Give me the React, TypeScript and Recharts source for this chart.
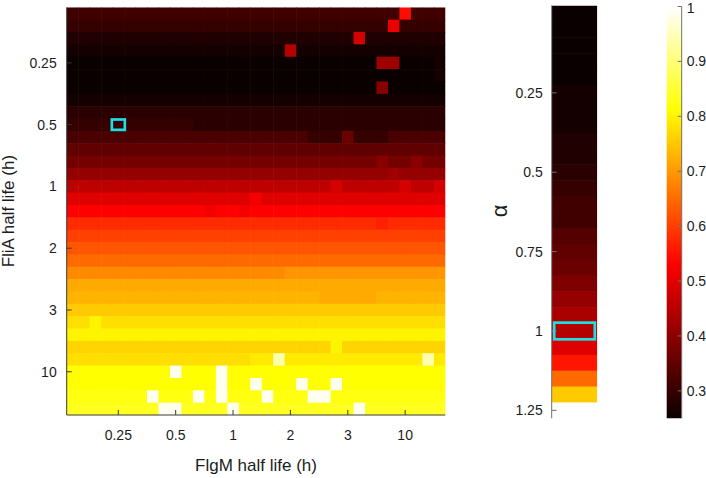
import React from 'react';
import { ScatterChart, Scatter, XAxis, YAxis, ReferenceArea } from 'recharts';

// ---------------- data ----------------
const flgmTickIndex = [4, 9, 14, 19, 24, 29];
const flgmTickLabels = ['0.25', '0.5', '1', '2', '3', '10'];
const fliaTickIndex = [4, 9, 14, 19, 24, 29];
const fliaTickLabels = ['0.25', '0.5', '1', '2', '3', '10'];
const gridCols = 33;
const gridRows = 33;

// typical value of each FliA row (top to bottom)
const rowBase = [
  0.316, 0.300, 0.283, 0.267, 0.259, 0.257, 0.260, 0.272, 0.289, 0.290,
  0.322, 0.349, 0.377, 0.404, 0.454, 0.493, 0.530, 0.575, 0.592, 0.614,
  0.647, 0.690, 0.708, 0.730, 0.752, 0.774, 0.790, 0.756, 0.785, 0.802,
  0.810, 0.823, 0.830,
];

// [row, fromCol, toCol, value]
const rowSegments: [number, number, number, number][] = [
  [2, 32, 32, 0.276], [3, 32, 32, 0.272], [4, 32, 32, 0.268], [5, 32, 32, 0.268],
  [9, 0, 10, 0.305],
  [10, 21, 27, 0.305],
  [21, 0, 18, 0.680],
  [23, 22, 26, 0.715],
  [28, 0, 15, 0.772],
];

// [row, col, value]
const cellOverrides: [number, number, number][] = [
  [0, 29, 0.54], [1, 28, 0.505], [2, 25, 0.476], [3, 19, 0.443],
  [4, 27, 0.415], [4, 28, 0.415], [6, 27, 0.393], [10, 24, 0.366],
  [12, 27, 0.40], [12, 30, 0.40], [13, 28, 0.425],
  [14, 23, 0.475], [14, 29, 0.475], [14, 32, 0.475],
  [15, 16, 0.51], [16, 12, 0.515], [16, 15, 0.515], [17, 27, 0.565],
  [25, 2, 0.80], [27, 23, 0.79], [28, 18, 0.94], [28, 31, 0.94],
  [29, 9, 0.982], [29, 13, 0.982],
  [30, 13, 0.982], [30, 16, 0.982], [30, 20, 0.982], [30, 23, 0.982],
  [31, 7, 0.982], [31, 11, 0.982], [31, 13, 0.982], [31, 17, 0.982], [31, 21, 0.982], [31, 22, 0.982],
  [32, 8, 0.985], [32, 9, 0.985], [32, 14, 0.985], [32, 25, 0.985],
];
const highlightCell = { x: 4, y: 9 };

const alphaValues = [
  0, 0.05, 0.1, 0.15, 0.2, 0.25, 0.3, 0.35, 0.4, 0.45, 0.5, 0.55, 0.6,
  0.65, 0.7, 0.75, 0.8, 0.85, 0.9, 0.95, 1, 1.05, 1.1, 1.15, 1.2, 1.25,
];
const alphaScores = [
  0.255, 0.255, 0.257, 0.259, 0.261, 0.263, 0.267, 0.272, 0.278, 0.283,
  0.292, 0.300, 0.310, 0.318, 0.333, 0.349, 0.366, 0.382, 0.404, 0.426,
  0.449, 0.493, 0.553, 0.641, 0.752, 1.0,
];
const alphaTicks = [0.25, 0.5, 0.75, 1, 1.25];
const alphaHighlight = 1;

const colorbarTicks = [0.3, 0.4, 0.5, 0.6, 0.7, 0.8, 0.9, 1];
const colorMin = 0.25;
const colorMax = 1;

// ---------------- helpers ----------------
function hot(v: number): string {
  const t = Math.min(1, Math.max(0, (v - colorMin) / (colorMax - colorMin)));
  const i = Math.min(63, Math.floor(t * 64));
  const r = Math.min(1, (i + 1) / 24);
  const g = Math.min(1, Math.max(0, (i + 1 - 24) / 24));
  const b = Math.min(1, Math.max(0, (i + 1 - 48) / 16));
  return `rgb(${Math.round(r * 255)},${Math.round(g * 255)},${Math.round(b * 255)})`;
}

const heatCells: { x: number; y: number; v: number }[] = [];
for (let r = 0; r < gridRows; r++) {
  for (let c = 0; c < gridCols; c++) {
    let v = rowBase[r];
    for (const [sr, c0, c1, sv] of rowSegments) if (sr === r && c >= c0 && c <= c1) v = sv;
    for (const [or, oc, ov] of cellOverrides) if (or === r && oc === c) v = ov;
    heatCells.push({ x: c, y: r, v });
  }
}
const alphaCells = alphaValues.map((a, i) => ({ x: 0, a, v: alphaScores[i] }));

// ---------------- layout ----------------
const W = 706;
const H = 478;
const FONT = '"Liberation Sans", Arial, Helvetica, sans-serif';
const TEXT = '#1c1c1c';
const AXIS_MAIN = '#383838';
const AXIS_SIDE = '#707070';
const CYAN = '#1fdde4';

const MAIN = { left: 66.7, right: 445.3, top: 7.3, bottom: 415 };
const ALPHA = { left: 551.7, right: 597.3, top: 5.5, bottom: 418.3 };
const CBAR = { left: 666.7, right: 681.7, top: 6.5, bottom: 418.3 };

const mainCellW = (MAIN.right - MAIN.left) / gridCols;
const mainCellH = (MAIN.bottom - MAIN.top) / gridRows;
const alphaCellW = ALPHA.right - ALPHA.left;
const alphaCellH = (ALPHA.bottom - ALPHA.top) / alphaValues.length;

const mainMargin = { top: MAIN.top, right: W - MAIN.right, bottom: H - MAIN.bottom - 30, left: MAIN.left - 60 };
const mainFillMargin = mainMargin;
const alphaFillMargin = { top: ALPHA.top, right: W - ALPHA.right, bottom: H - ALPHA.bottom, left: ALPHA.left };
const alphaAxisMargin = { top: ALPHA.top, right: W - ALPHA.right, bottom: H - ALPHA.bottom, left: ALPHA.left - 60 };
const cbarFillMargin = { top: CBAR.top, right: W - CBAR.right, bottom: H - CBAR.bottom, left: CBAR.left };
const cbarAxisMargin = { top: CBAR.top, right: W - CBAR.right - 20, bottom: H - CBAR.bottom, left: CBAR.left };

const mainDomain: [number, number] = [-0.5, gridCols - 0.5];
const mainDomainY: [number, number] = [-0.5, gridRows - 0.5];
const alphaDomain: [number, number] = [-0.025, 1.275];

const HeatCell = (p: any) => (
  <rect
    x={p.cx - mainCellW / 2}
    y={p.cy - mainCellH / 2}
    width={mainCellW + 0.6}
    height={mainCellH + 0.6}
    fill={hot(p.payload.v)}
  />
);
const AlphaCell = (p: any) => (
  <rect
    x={p.cx - alphaCellW / 2}
    y={p.cy - alphaCellH / 2}
    width={alphaCellW}
    height={alphaCellH + 0.6}
    fill={hot(p.payload.v)}
  />
);
const MainHighlight = (p: any) => (
  <rect
    x={p.cx - (mainCellW + 1.5) / 2}
    y={p.cy - (mainCellH - 2) / 2}
    width={mainCellW + 1.5}
    height={mainCellH - 2}
    fill="none"
    stroke={CYAN}
    strokeWidth={2.7}
  />
);
const AlphaHighlight = (p: any) => (
  <rect
    x={p.cx - (alphaCellW - 5) / 2}
    y={p.cy - (alphaCellH + 0.8) / 2}
    width={alphaCellW - 5}
    height={alphaCellH + 0.8}
    fill="none"
    stroke={CYAN}
    strokeWidth={2.7}
  />
);

const tickText = { fontSize: 14, fontFamily: FONT, fill: TEXT } as const;

const MainXTick = (p: any) => (
  <text x={p.x} y={MAIN.bottom + 25} textAnchor="middle" {...tickText}>
    {flgmTickLabels[flgmTickIndex.indexOf(p.payload.value)]}
  </text>
);
const MainYTick = (p: any) => (
  <text x={MAIN.left - 10} y={p.y} dy="0.355em" textAnchor="end" {...tickText}>
    {fliaTickLabels[fliaTickIndex.indexOf(p.payload.value)]}
  </text>
);
const AlphaTick = (p: any) => (
  <text x={ALPHA.left - 9} y={p.y} dy="0.355em" textAnchor="end" {...tickText}>
    {String(p.payload.value)}
  </text>
);
const ColorbarTick = (p: any) => (
  <text x={CBAR.right + 5} y={Math.max(p.y, 8.5)} dy="0.355em" textAnchor="start" {...tickText}>
    {String(p.payload.value)}
  </text>
);

const layer: React.CSSProperties = { position: 'absolute', left: 0, top: 0 };

export default function App() {
  return (
    <div style={{ position: 'absolute', left: 0, top: 0, width: W, height: H, background: '#fff', overflow: 'hidden' }}>
      {/* main heatmap cells */}
      <div style={layer}>
        <ScatterChart width={W} height={H} margin={mainFillMargin}>
          <XAxis type="number" dataKey="x" domain={mainDomain} allowDataOverflow height={30} tick={false} tickLine={false} axisLine={false} />
          <YAxis type="number" dataKey="y" domain={mainDomainY} allowDataOverflow reversed width={60} tick={false} tickLine={false} axisLine={false} />
          <Scatter data={heatCells} isAnimationActive={false} shape={HeatCell} />
        </ScatterChart>
      </div>
      {/* main heatmap axes */}
      <div style={layer}>
        <ScatterChart width={W} height={H} margin={mainMargin}>
          <XAxis
            xAxisId="b" type="number" dataKey="x" domain={mainDomain} allowDataOverflow height={30}
            ticks={flgmTickIndex} interval={0}
            tickSize={-5} tickMargin={20} stroke={AXIS_MAIN} tick={<MainXTick />}
            label={{
              content: () => (
                <text x={(MAIN.left + MAIN.right) / 2} y={471} textAnchor="middle" fontSize={17} fontFamily={FONT} fill={TEXT}>
                  FlgM half life (h)
                </text>
              ),
            }}
          />
          <XAxis xAxisId="t" orientation="top" type="number" domain={mainDomain} allowDataOverflow height={0}
            ticks={flgmTickIndex} interval={0} tick={false} tickSize={-5} stroke={AXIS_MAIN} />
          <YAxis
            yAxisId="l" type="number" dataKey="y" domain={mainDomainY} allowDataOverflow reversed width={60}
            ticks={fliaTickIndex} interval={0}
            tickSize={-5} tickMargin={15} stroke={AXIS_MAIN} tick={<MainYTick />}
            label={{
              content: () => (
                <text x={14} y={(MAIN.top + MAIN.bottom) / 2} transform={`rotate(-90 14 ${(MAIN.top + MAIN.bottom) / 2})`}
                  textAnchor="middle" fontSize={17} fontFamily={FONT} fill={TEXT}>
                  FliA half life (h)
                </text>
              ),
            }}
          />
          <YAxis yAxisId="r" orientation="right" type="number" domain={mainDomainY} allowDataOverflow reversed width={0}
            ticks={fliaTickIndex} interval={0} tick={false} tickSize={-5} stroke={AXIS_MAIN} />
          <Scatter xAxisId="b" yAxisId="l" data={[highlightCell]} isAnimationActive={false} shape={MainHighlight} />
        </ScatterChart>
      </div>

      {/* alpha column cells */}
      <div style={layer}>
        <ScatterChart width={W} height={H} margin={alphaFillMargin}>
          <XAxis type="number" dataKey="x" domain={[-0.5, 0.5]} allowDataOverflow hide />
          <YAxis type="number" dataKey="a" domain={alphaDomain} allowDataOverflow reversed hide />
          <Scatter data={alphaCells} isAnimationActive={false} shape={AlphaCell} />
        </ScatterChart>
      </div>
      {/* alpha column axes */}
      <div style={layer}>
        <ScatterChart width={W} height={H} margin={alphaAxisMargin}>
          <XAxis xAxisId="b" type="number" dataKey="x" domain={[-0.5, 0.5]} allowDataOverflow height={0} tick={false} tickLine={false} stroke={AXIS_SIDE} />
          <XAxis xAxisId="t" orientation="top" type="number" domain={[-0.5, 0.5]} allowDataOverflow height={0} tick={false} tickLine={false} stroke={AXIS_SIDE} />
          <YAxis
            yAxisId="l" type="number" dataKey="a" domain={alphaDomain} allowDataOverflow reversed width={60}
            ticks={alphaTicks} interval={0} tickSize={-5} tickMargin={14} stroke={AXIS_SIDE} tick={<AlphaTick />}
            label={{
              content: () => (
                <text x={507} y={211} transform="rotate(-90 507 211)" textAnchor="middle" fontSize={22} fontFamily={FONT} fill={TEXT}>
                  α
                </text>
              ),
            }}
          />
          <YAxis yAxisId="r" orientation="right" type="number" domain={alphaDomain} allowDataOverflow reversed width={0}
            ticks={alphaTicks} interval={0} tick={false} tickSize={-5} stroke={AXIS_SIDE} />
          <Scatter xAxisId="b" yAxisId="l" data={[{ x: 0, a: alphaHighlight }]} isAnimationActive={false} shape={AlphaHighlight} />
        </ScatterChart>
      </div>

      {/* colorbar fill */}
      <div style={layer}>
        <ScatterChart width={W} height={H} margin={cbarFillMargin}>
          <defs>
            <linearGradient id="hotGradient" x1="0" y1="0" x2="0" y2="1">
              <stop offset="0" stopColor="#ffffff" />
              <stop offset="0.25" stopColor="#ffff00" />
              <stop offset="0.625" stopColor="#ff0000" />
              <stop offset="1" stopColor="#0b0000" />
            </linearGradient>
          </defs>
          <XAxis type="number" dataKey="x" domain={[0, 1]} allowDataOverflow hide />
          <YAxis type="number" dataKey="y" domain={[colorMin, colorMax]} allowDataOverflow hide />
          <ReferenceArea x1={0} x2={1} y1={colorMin} y2={colorMax} fill="url(#hotGradient)" fillOpacity={1} stroke="none" ifOverflow="visible" />
        </ScatterChart>
      </div>
      {/* colorbar axes */}
      <div style={layer}>
        <ScatterChart width={W} height={H} margin={cbarAxisMargin}>
          <XAxis xAxisId="b" type="number" dataKey="x" domain={[0, 1]} allowDataOverflow height={0} tick={false} tickLine={false} stroke={AXIS_SIDE} />
          <XAxis xAxisId="t" orientation="top" type="number" domain={[0, 1]} allowDataOverflow height={0} tick={false} tickLine={false} stroke={AXIS_SIDE} />
          <YAxis yAxisId="l" type="number" dataKey="y" domain={[colorMin, colorMax]} allowDataOverflow width={0} tick={false} tickLine={false} stroke={AXIS_SIDE} />
          <YAxis
            yAxisId="r" orientation="right" type="number" domain={[colorMin, colorMax]} allowDataOverflow width={20}
            ticks={colorbarTicks} interval={0} tickSize={-4} tickMargin={9} stroke={AXIS_SIDE} tick={<ColorbarTick />}
          />
          <Scatter xAxisId="b" yAxisId="l" data={[]} isAnimationActive={false} />
        </ScatterChart>
      </div>
    </div>
  );
}
